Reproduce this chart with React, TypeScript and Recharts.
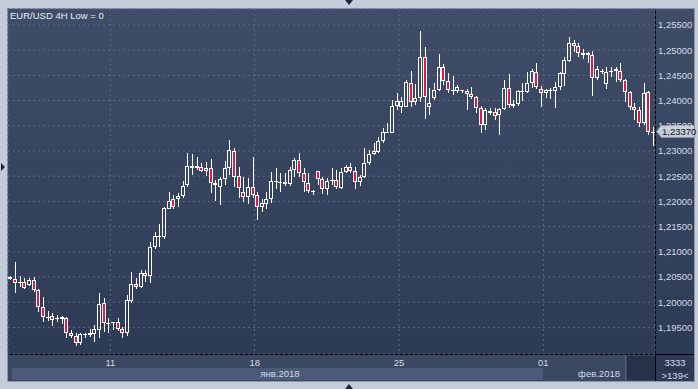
import { Bar, CartesianGrid, ComposedChart, ReferenceLine, XAxis, YAxis } from 'recharts';

// EUR/USD 4H candles, 139 bars visible (5 Jan 12:00 .. 6 Feb)
const opens = [
  1.205, 1.20454, 1.20375, 1.20407, 1.20335, 1.2044, 1.20242, 1.19899, 1.19706, 1.19726,
  1.19677, 1.19667, 1.19681, 1.19383, 1.19329, 1.19196, 1.19363, 1.19349, 1.19369, 1.19448,
  1.19978, 1.19567, 1.19591, 1.19601, 1.19462, 1.19383, 1.2003, 1.20361, 1.20296, 1.20573,
  1.20526, 1.21101, 1.2131, 1.213, 1.21855, 1.22042, 1.22042, 1.22101, 1.22319, 1.22696,
  1.22657, 1.22688, 1.22609, 1.22657, 1.22371, 1.22292, 1.22439, 1.22657, 1.23, 1.22504,
  1.22187, 1.22081, 1.2228, 1.22121, 1.21895, 1.21954, 1.22042, 1.22399, 1.22375, 1.22351,
  1.22339, 1.22617, 1.22821, 1.22558, 1.22371, 1.222, 1.22603, 1.22439, 1.2224, 1.22405,
  1.22425, 1.22272, 1.22577, 1.22677, 1.22603, 1.22379, 1.22478, 1.22756, 1.2294, 1.22986,
  1.23204, 1.23373, 1.23363, 1.23883, 1.23879, 1.23879, 1.24343, 1.23966, 1.24046, 1.24859,
  1.23867, 1.24046, 1.2421, 1.24661, 1.24389, 1.242, 1.2419, 1.2419, 1.24196, 1.24125,
  1.24065, 1.23847, 1.23516, 1.238, 1.23768, 1.23714, 1.23833, 1.24244, 1.23893, 1.23927,
  1.24187, 1.24177, 1.24355, 1.24573, 1.2423, 1.24145, 1.242, 1.24196, 1.24276, 1.24522,
  1.24792, 1.25137, 1.25083, 1.24905, 1.24905, 1.24905, 1.24442, 1.24593, 1.24329, 1.24589,
  1.24587, 1.24593, 1.24409, 1.24165, 1.23867, 1.23814, 1.2355, 1.24165, 1.2338,
];
const highs = [
  1.2052, 1.20804, 1.2052, 1.20486, 1.20474, 1.20494, 1.20256, 1.20097, 1.19825, 1.1978,
  1.1974, 1.19726, 1.19712, 1.19448, 1.19395, 1.19383, 1.19395, 1.19468, 1.19548, 1.20189,
  1.20077, 1.19681, 1.19613, 1.19681, 1.19514, 1.20143, 1.20599, 1.20474, 1.20639, 1.20639,
  1.21189, 1.21387, 1.21546, 1.21895, 1.22187, 1.22127, 1.22161, 1.22405, 1.22954, 1.2294,
  1.22875, 1.22756, 1.22788, 1.22835, 1.22425, 1.22478, 1.22802, 1.23218, 1.23054, 1.22689,
  1.2249, 1.22458, 1.22887, 1.22192, 1.22042, 1.22187, 1.22589, 1.22657, 1.22569, 1.22558,
  1.22677, 1.22855, 1.22966, 1.22657, 1.22558, 1.22226, 1.22609, 1.22478, 1.22458, 1.22657,
  1.22623, 1.22657, 1.22722, 1.22756, 1.22677, 1.22524, 1.23054, 1.2302, 1.23153, 1.23284,
  1.2345, 1.2355, 1.24012, 1.24145, 1.24077, 1.24409, 1.24587, 1.24323, 1.25387, 1.25058,
  1.24244, 1.24343, 1.24925, 1.2472, 1.24554, 1.24488, 1.2431, 1.2421, 1.24224, 1.24276,
  1.24091, 1.23893, 1.23847, 1.23859, 1.23847, 1.23859, 1.24409, 1.24522, 1.24012, 1.2421,
  1.24343, 1.24563, 1.24621, 1.2474, 1.2429, 1.24224, 1.24244, 1.24375, 1.24573, 1.24871,
  1.25256, 1.25202, 1.25137, 1.25018, 1.2497, 1.24984, 1.24692, 1.24621, 1.24661, 1.24673,
  1.24661, 1.2474, 1.24423, 1.2419, 1.23958, 1.23879, 1.24355, 1.2419, 1.2347,
];
const lows = [
  1.2044, 1.20189, 1.20308, 1.20262, 1.20327, 1.20208, 1.19812, 1.19613, 1.19627, 1.19528,
  1.19613, 1.19567, 1.19284, 1.19284, 1.19137, 1.19151, 1.19284, 1.19304, 1.19216, 1.19284,
  1.19415, 1.19395, 1.19448, 1.19434, 1.19284, 1.19329, 1.1999, 1.20256, 1.20276, 1.20407,
  1.20387, 1.21056, 1.21101, 1.21248, 1.21845, 1.21843, 1.21895, 1.22073, 1.2228, 1.22524,
  1.22623, 1.22589, 1.22504, 1.22161, 1.22014, 1.21929, 1.22325, 1.22524, 1.22292, 1.22062,
  1.21994, 1.21948, 1.22062, 1.21631, 1.21796, 1.21849, 1.21962, 1.2224, 1.22192, 1.22312,
  1.22306, 1.2249, 1.22478, 1.22181, 1.22173, 1.22127, 1.22325, 1.22141, 1.22127, 1.22325,
  1.22246, 1.2224, 1.22558, 1.22569, 1.2224, 1.22306, 1.22458, 1.22722, 1.22921, 1.22954,
  1.23153, 1.23363, 1.23351, 1.23814, 1.23748, 1.2387, 1.2387, 1.23913, 1.23978, 1.23629,
  1.23714, 1.24012, 1.24196, 1.2431, 1.24145, 1.24111, 1.24145, 1.24145, 1.23814, 1.24026,
  1.23748, 1.23351, 1.23417, 1.23714, 1.23615, 1.23317, 1.23814, 1.23847, 1.23847, 1.23899,
  1.23992, 1.24155, 1.24244, 1.24224, 1.23867, 1.24046, 1.24032, 1.23847, 1.2421, 1.24296,
  1.2476, 1.2497, 1.24871, 1.24819, 1.24752, 1.24091, 1.24409, 1.24528, 1.2423, 1.24474,
  1.24375, 1.24375, 1.23978, 1.23814, 1.23615, 1.23482, 1.23516, 1.23317, 1.23099,
];
const closes = [
  1.2046, 1.20375, 1.20395, 1.20276, 1.2044, 1.20236, 1.19899, 1.19706, 1.19716, 1.19647,
  1.19687, 1.19712, 1.19383, 1.19329, 1.19196, 1.19369, 1.19369, 1.19383, 1.19468, 1.19964,
  1.19581, 1.19593, 1.19601, 1.19462, 1.19383, 1.20044, 1.20361, 1.20296, 1.20573, 1.20526,
  1.21101, 1.21319, 1.21319, 1.21863, 1.22008, 1.21895, 1.22101, 1.22306, 1.22702, 1.22657,
  1.22696, 1.22609, 1.22669, 1.22359, 1.22319, 1.22439, 1.22657, 1.2302, 1.22478, 1.2226,
  1.22081, 1.2228, 1.22121, 1.21895, 1.21962, 1.22042, 1.22405, 1.22405, 1.22379, 1.22379,
  1.22617, 1.22821, 1.22558, 1.22379, 1.22206, 1.2219, 1.22439, 1.2224, 1.22411, 1.22425,
  1.2228, 1.22589, 1.22677, 1.22603, 1.22379, 1.22478, 1.22756, 1.2294, 1.23, 1.23204,
  1.23383, 1.23383, 1.23893, 1.23982, 1.23992, 1.24363, 1.23966, 1.24046, 1.24859, 1.24077,
  1.23946, 1.2421, 1.24661, 1.24389, 1.2421, 1.24194, 1.2427, 1.242, 1.24125, 1.24065,
  1.23847, 1.23516, 1.23814, 1.23748, 1.23694, 1.23833, 1.24244, 1.23913, 1.23933, 1.2419,
  1.2419, 1.24355, 1.24593, 1.24264, 1.24145, 1.2421, 1.24206, 1.24276, 1.24542, 1.24806,
  1.25137, 1.25083, 1.24938, 1.24938, 1.24938, 1.24442, 1.24621, 1.24561, 1.24573, 1.24593,
  1.24621, 1.24409, 1.24165, 1.23867, 1.23814, 1.2355, 1.24145, 1.23383, 1.2337,
];

// first bar of each labelled day
const dayStartBars = [22, 53, 84, 115];
const dayLabels = ['11', '18', '25', '01'];
const priceTicks = [1.195, 1.2, 1.205, 1.21, 1.215, 1.22, 1.225, 1.23, 1.235, 1.24, 1.245, 1.25, 1.255];
const priceDomain = [1.18972, 1.25817];

const data = opens.map((o, i) => ({ i, o, h: highs[i], l: lows[i], c: closes[i] }));
const dayTicks = dayStartBars.map((b) => b - 0.5);
const last = closes[closes.length - 1];

const font = '"Liberation Sans", Arial, sans-serif';
const text = '#d3dae7';
const red = '#e3173f';
const fmt = (v: number) => v.toFixed(5).replace('.', ',');

function Candle(props: any) {
  const { x, y, width, height, payload } = props;
  if (!payload || height == null) return null;
  const top = Math.min(y, y + height);
  const k = Math.abs(height) / (payload.h - payload.l || 1);
  const py = (v: number) => Math.round(top + (payload.h - v) * k);
  const n = Math.round(x + width / 2);
  const yH = py(payload.h);
  const yL = py(payload.l);
  const yO = py(payload.o);
  const yC = py(payload.c);
  const bTop = Math.min(yO, yC);
  const bBot = Math.max(yO, yC);
  const down = payload.c < payload.o;
  return (
    <g>
      {bTop > yH && <rect x={n} y={yH} width={1} height={bTop - yH} fill="#fff" />}
      {yL > bBot && <rect x={n} y={bBot} width={1} height={yL - bBot} fill="#fff" />}
      {bBot - bTop < 2 ? (
        <rect x={n - 2} y={bTop} width={4} height={Math.max(1, bBot - bTop)} fill="#fff" />
      ) : (
        <rect
          x={n - 1.5}
          y={bTop + 0.5}
          width={3}
          height={bBot - bTop - 1}
          fill={down ? red : 'none'}
          stroke="#fff"
          strokeWidth={1}
        />
      )}
    </g>
  );
}

function PriceTag(props: any) {
  const vb = props.viewBox;
  if (!vb) return null;
  const x0 = vb.x + vb.width;
  const yc = Math.round(vb.y) - 0.5;
  return (
    <g>
      <polygon
        points={`${x0 + 1.5},${yc} ${x0 + 6.5},${yc - 6} ${x0 + 39.5},${yc - 6} ${x0 + 39.5},${yc + 6} ${x0 + 6.5},${yc + 6}`}
        fill="#c5ccd7"
        stroke="#8c95a4"
      />
      <text x={x0 + 7} y={yc + 3.5} fontSize={9.5} fontFamily={font} fill="#101418">
        {fmt(last)}
      </text>
    </g>
  );
}

const abs = (l: number, t: number, w: number, h: number, extra: any = {}) => ({
  position: 'absolute' as const,
  left: l,
  top: t,
  width: w,
  height: h,
  ...extra,
});

export default function App() {
  return (
    <div style={abs(0, 0, 698, 389, { background: '#c4ccd9', fontFamily: font, overflow: 'hidden' })}>
      <div style={abs(7, 8, 688, 374, { background: '#8d97a8' })} />
      <div
        style={abs(8, 9, 686, 372, {
          background: 'linear-gradient(#404d68, #2c3954)',
        })}
      />
      <div style={abs(8, 355, 647, 26, { background: '#3b4862' })} />
      <div style={abs(12, 368, 531, 12, { background: '#4b5a77' })} />
      <div style={abs(625, 355, 1, 25, { background: '#56647e' })} />
      <div style={abs(627, 356, 28, 24, { background: '#26324a' })} />
      <div style={abs(8, 354, 686, 1, { background: '#000' })} />
      <div style={abs(655, 9, 1, 372, { background: '#000' })} />

      <div style={abs(0, 0, 698, 389)}>
        <ComposedChart width={698} height={389} data={data} margin={{ top: 9, right: 5, bottom: 9, left: 8 }}>
          <CartesianGrid stroke="#5b6986" strokeDasharray="2 3" />
          <XAxis
            type="number"
            dataKey="i"
            domain={[-0.5, opens.length - 0.5]}
            ticks={dayTicks}
            tickFormatter={(v: number) => dayLabels[dayTicks.indexOf(v)]}
            tick={{ fill: text, fontSize: 9.5, fontFamily: font }}
            tickLine={false}
            axisLine={false}
            tickSize={0}
            tickMargin={5}
            height={26}
            allowDataOverflow
          />
          <YAxis
            orientation="right"
            type="number"
            domain={priceDomain}
            ticks={priceTicks}
            tickFormatter={fmt}
            tick={{ fill: text, fontSize: 9.5, fontFamily: font }}
            tickLine={false}
            axisLine={false}
            tickSize={0}
            tickMargin={3}
            width={38}
            allowDataOverflow
          />
          <Bar dataKey={(d: any) => [d.l, d.h]} shape={<Candle />} isAnimationActive={false} />
          <ReferenceLine y={last} stroke="none" label={<PriceTag />} />
        </ComposedChart>
      </div>

      <div style={abs(10, 10, 200, 12, { color: '#e8edf5', fontSize: 9.5, lineHeight: '12px', whiteSpace: 'nowrap' })}>
        EUR/USD 4H Low = 0
      </div>
      <div style={abs(240, 368, 80, 12, { color: text, fontSize: 9.5, lineHeight: '12px', textAlign: 'center' })}>
        янв.2018
      </div>
      <div style={abs(560, 368, 60, 12, { color: text, fontSize: 9.5, lineHeight: '12px', textAlign: 'right' })}>
        фев.2018
      </div>
      <div style={abs(656, 357, 38, 11, { color: text, fontSize: 9.5, lineHeight: '11px', textAlign: 'center' })}>
        3333
      </div>
      <div style={abs(665, 369, 24, 1, { background: '#202a3c' })} />
      <div style={abs(656, 370, 38, 11, { color: text, fontSize: 9.5, lineHeight: '11px', textAlign: 'center' })}>
        {'>139<'}
      </div>

      <svg style={abs(0, 0, 698, 389, { pointerEvents: 'none' })} width={698} height={389}>
        <polygon points="345,0 353,0 349,5" fill="#1d2738" />
        <polygon points="345,389 353,389 349,384" fill="#1d2738" />
        <polygon points="1,163 1,171 5,167" fill="#1d2738" />
      </svg>
    </div>
  );
}
